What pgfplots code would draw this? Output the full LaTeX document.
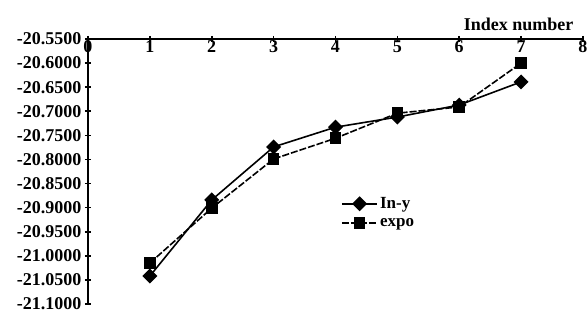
\documentclass[border=0pt]{standalone}
\usepackage{fontspec}
\setmainfont{Liberation Serif}
\usepackage{pgfplots}
\pgfplotsset{compat=1.18}
\begin{document}
\begin{tikzpicture}
\useasboundingbox (-88pt,-16pt) rectangle (499pt,304pt);
\begin{axis}[
  at={(0pt,0pt)}, anchor=south west,
  scale only axis, width=495pt, height=265pt,
  xmin=0, xmax=8, ymin=-21.1, ymax=-20.55,
  axis x line*=top, axis y line*=left,
  axis line style={line width=2.6pt},
  xtick={0,1,...,8},
  ytick={-21.1,-21.05,-21.0,-20.95,-20.9,-20.85,-20.8,-20.75,-20.7,-20.65,-20.6,-20.55},
  tick align=center, major tick length=6pt,
  tick style={line width=1.6pt, black},
  font=\fontsize{18}{21}\selectfont\bfseries,
  tick label style={font=\fontsize{18}{21}\selectfont\bfseries},
  /pgf/number format/assume math mode=true,
  yticklabel style={/pgf/number format/.cd, fixed, fixed zerofill, precision=4},
  xticklabel style={anchor=north, yshift=-1pt},
  xlabel={Index number},
  xlabel style={at={(axis description cs:1,1)}, anchor=south east, yshift=5pt, xshift=-6pt, font=\fontsize{18}{21}\selectfont\bfseries},
  clip=false,
  legend style={draw=none, fill=none, at={(0.509,0.414)}, anchor=north west,
    font=\fontsize{17}{19}\selectfont\bfseries, row sep=4pt, inner sep=1pt},
  legend cell align=left,
  legend image code/.code={\draw[mark repeat=2,mark phase=2] plot coordinates {(0cm,0cm) (0.62cm,0cm) (1.24cm,0cm)};},
]
\addplot[black, line width=1.6pt, mark=square*, mark size=4.5pt, mark options={rotate=45, solid}]
  coordinates {(1,-21.042) (2,-20.884) (3,-20.774) (4,-20.733) (5,-20.712) (6,-20.687) (7,-20.639)};
\addlegendentry{In-y}
\addplot[black, line width=1.6pt, dash pattern=on 7pt off 2pt, mark=square*, mark size=5pt, mark options={solid}]
  coordinates {(1,-21.015) (2,-20.901) (3,-20.799) (4,-20.756) (5,-20.704) (6,-20.691) (7,-20.600)};
\addlegendentry{expo}
\end{axis}
\end{tikzpicture}
\end{document}
